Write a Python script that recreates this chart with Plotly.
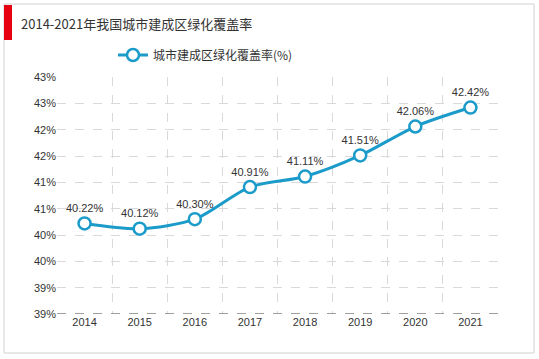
import plotly.graph_objects as go

years = ["2014", "2015", "2016", "2017", "2018", "2019", "2020", "2021"]
coverage = [40.22, 40.12, 40.30, 40.91, 41.11, 41.51, 42.06, 42.42]
y_tick_vals = [38.5, 39.0, 39.5, 40.0, 40.5, 41.0, 41.5, 42.0, 42.5, 43.0]
y_tick_text = ["39%", "39%", "40%", "40%", "41%", "41%", "42%", "42%", "43%", "43%"]
title_text = "2014-2021年我国城市建成区绿化覆盖率"
series_name = "城市建成区绿化覆盖率(%)"

W, H = 539, 359
ML, MR, MT, MB = 57, 41, 77, 45
color = "#1a9bc9"
font_cjk = "Noto Sans CJK SC, Liberation Sans, Arial, sans-serif"
font_num = "Liberation Sans, Arial, sans-serif"

fig = go.Figure()
fig.add_trace(go.Scatter(
    x=years, y=coverage, name=series_name,
    mode="lines+markers+text",
    line=dict(color=color, width=3, shape="spline", smoothing=0.8),
    marker=dict(size=12, color="white", line=dict(color=color, width=2.5)),
    text=[f"{v:.2f}%" for v in coverage],
    textposition="top center",
    textfont=dict(size=11, color="#333333", family=font_num),
    cliponaxis=False,
))

pw = W - ML - MR
ph = H - MT - MB

def px_x(p):
    return (p - ML) / pw

def px_y(p):
    return 1 - (p - MT) / ph

shapes = [
    # outer border
    dict(type="rect", xref="paper", yref="paper",
         x0=px_x(4), x1=px_x(534), y0=px_y(4), y1=px_y(353),
         line=dict(color="#d0d0d0", width=1), layer="below"),
    # red bar
    dict(type="rect", xref="paper", yref="paper",
         x0=px_x(4), x1=px_x(12), y0=px_y(5), y1=px_y(40),
         fillcolor="#e60012", line=dict(width=0)),
    # bottom axis dashed
    dict(type="line", xref="paper", yref="y",
         x0=0, x1=1, y0=38.5, y1=38.5,
         line=dict(color="#808080", width=1.5, dash="dash")),
]

fig.update_layout(
    width=W, height=H,
    margin=dict(l=ML, r=MR, t=MT, b=MB),
    paper_bgcolor="white", plot_bgcolor="white",
    showlegend=True,
    legend=dict(orientation="h", x=px_x(113), xanchor="left", y=px_y(55), yanchor="middle",
                font=dict(size=12, color="#333333", family=font_cjk),
                bgcolor="rgba(0,0,0,0)"),
    shapes=shapes,
    annotations=[dict(text=title_text, xref="paper", yref="paper",
                      x=px_x(19), y=px_y(23), xanchor="left", yanchor="middle",
                      showarrow=False,
                      font=dict(size=13, color="#333333", family=font_cjk))],
    xaxis=dict(type="category", tickson="boundaries", showgrid=True,
               gridcolor="#d9d9d9", griddash="dash", gridwidth=1,
               ticks="", showline=False, zeroline=False,
               tickfont=dict(size=11, color="#333333", family=font_num),
               range=[-0.5, 7.5]),
    yaxis=dict(range=[38.5, 43.0], tickvals=y_tick_vals, ticktext=y_tick_text,
               showgrid=True, gridcolor="#d9d9d9", griddash="dash", gridwidth=1,
               zeroline=False, showline=False, ticks="",
               tickfont=dict(size=11, color="#333333", family=font_num)),
)

fig.write_html("out.html",
               config={"displayModeBar": False},
               post_script="document.body.style.margin='0';document.body.style.padding='0';")
